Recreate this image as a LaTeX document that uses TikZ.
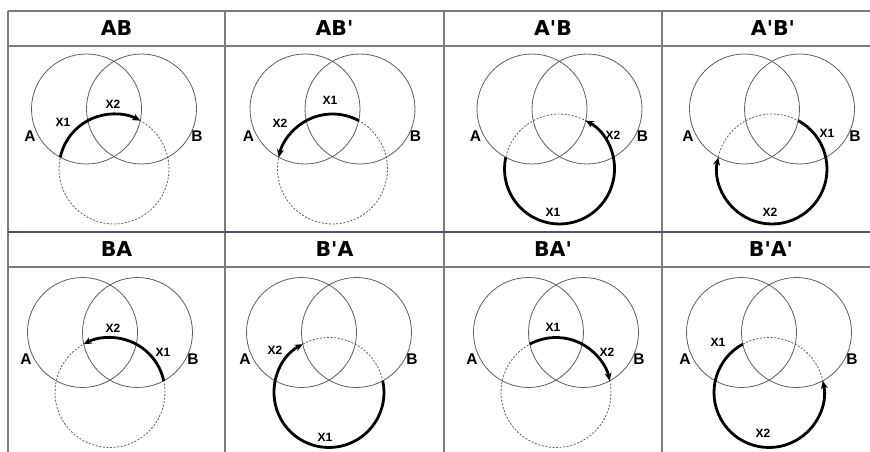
\documentclass[tikz,border=0pt]{standalone}
\usepackage{fontspec}
\usetikzlibrary{arrows.meta}
\newfontfamily\hdrfont{DejaVu Sans}[Ligatures=TeXOff]
\newfontfamily\lblfont{Liberation Sans}
\definecolor{gridc}{HTML}{7C7C7C}
\definecolor{sepc}{HTML}{4C5666}
\definecolor{circc}{HTML}{5E5E5E}
\tikzset{
  gridl/.style={draw=gridc, line width=1.2pt},
  sepl/.style={draw=sepc, line width=2.6pt},
  hdr/.style={font=\hdrfont\bfseries\fontsize{20.5}{22}\selectfont, inner sep=0pt},
  circ/.style={draw=circc, line width=0.8pt},
  dcirc/.style={draw=circc, line width=0.8pt, dash pattern=on 2pt off 1.6pt},
  movearc/.style={line width=2.8pt, line cap=butt, -{Stealth[length=8pt,width=7pt]}},
  setlbl/.style={font=\lblfont\bfseries\fontsize{15.5}{17}\selectfont, inner sep=0pt},
  xlbl/.style={font=\lblfont\bfseries\fontsize{12}{13}\selectfont, inner sep=0pt},
}
\newcommand\vpanel[8]{%
  \begin{scope}[shift={(#1,{452-#2})}, name prefix=#8-]
    \coordinate (ca) at (-27.5,0);
    \coordinate (cb) at (27.5,0);
    \coordinate (cc) at (0,-60);
    \draw[circ] (ca) circle[radius=55pt];
    \draw[circ] (cb) circle[radius=55pt];
    \draw[dcirc] (cc) circle[radius=55pt];
    \draw[movearc] (cc) ++(#4:55pt) arc[start angle=#4, end angle=#5, radius=55pt];
    \node[setlbl] (la) at (-84,-27) {A};
    \node[setlbl] (lb) at (83,-27) {B};
    \node[xlbl] (x1) at (#6) {X1};
    \node[xlbl] (x2) at (#7) {X2};
  \end{scope}}
\begin{document}
\begin{tikzpicture}[x=1pt,y=1pt]
  \useasboundingbox[fill=white] (0,0) rectangle (870,452);
  % table
  \draw[gridl] (8,{452-11}) -- (870,{452-11});
  \draw[gridl] (8,{452-46}) -- (870,{452-46});
  \draw[gridl] (8,{452-267}) -- (870,{452-267});
  \foreach \xx in {8,225,444,662} {\draw[gridl] (\xx,{452-11}) -- (\xx,0);}
  \draw[sepl] (8,{452-232}) -- (870,{452-232});
  % headers
  \node[hdr] (h1) at (116.5,{452-28.5}) {AB};
  \node[hdr] (h2) at (334.5,{452-28.5}) {AB'};
  \node[hdr] (h3) at (553,{452-28.5}) {A'B};
  \node[hdr] (h4) at (773,{452-28.5}) {A'B'};
  \node[hdr] (h5) at (116.5,{452-249.5}) {BA};
  \node[hdr] (h6) at (334.5,{452-249.5}) {B'A};
  \node[hdr] (h7) at (553,{452-249.5}) {BA'};
  \node[hdr] (h8) at (771,{452-249.5}) {B'A'};
  % panels
  \vpanel{114}{109}{}{167.75}{61.5}{-51,-13}{-1,5}{p1}
  \vpanel{332.5}{109}{}{61.5}{167.75}{-2.5,9}{-52.5,-14}{p2}
  \vpanel{559.5}{109}{}{167.75}{421.5}{-6.5,-103}{53.5,-26}{p3}
  \vpanel{772}{109}{}{61.5}{-192.25}{55,-24}{-2,-103}{p4}
  \vpanel{110}{332.5}{}{12.25}{118.5}{53,-19.5}{3,4.5}{p5}
  \vpanel{329}{332.5}{}{12.25}{-241.5}{-4,-104.5}{-54,-17.5}{p6}
  \vpanel{556}{332.5}{}{118.5}{12.25}{-3,5.5}{51,-19.5}{p7}
  \vpanel{769}{332.5}{}{118.5}{372.25}{-51,-9.5}{-6,-100.5}{p8}
\end{tikzpicture}
\end{document}
